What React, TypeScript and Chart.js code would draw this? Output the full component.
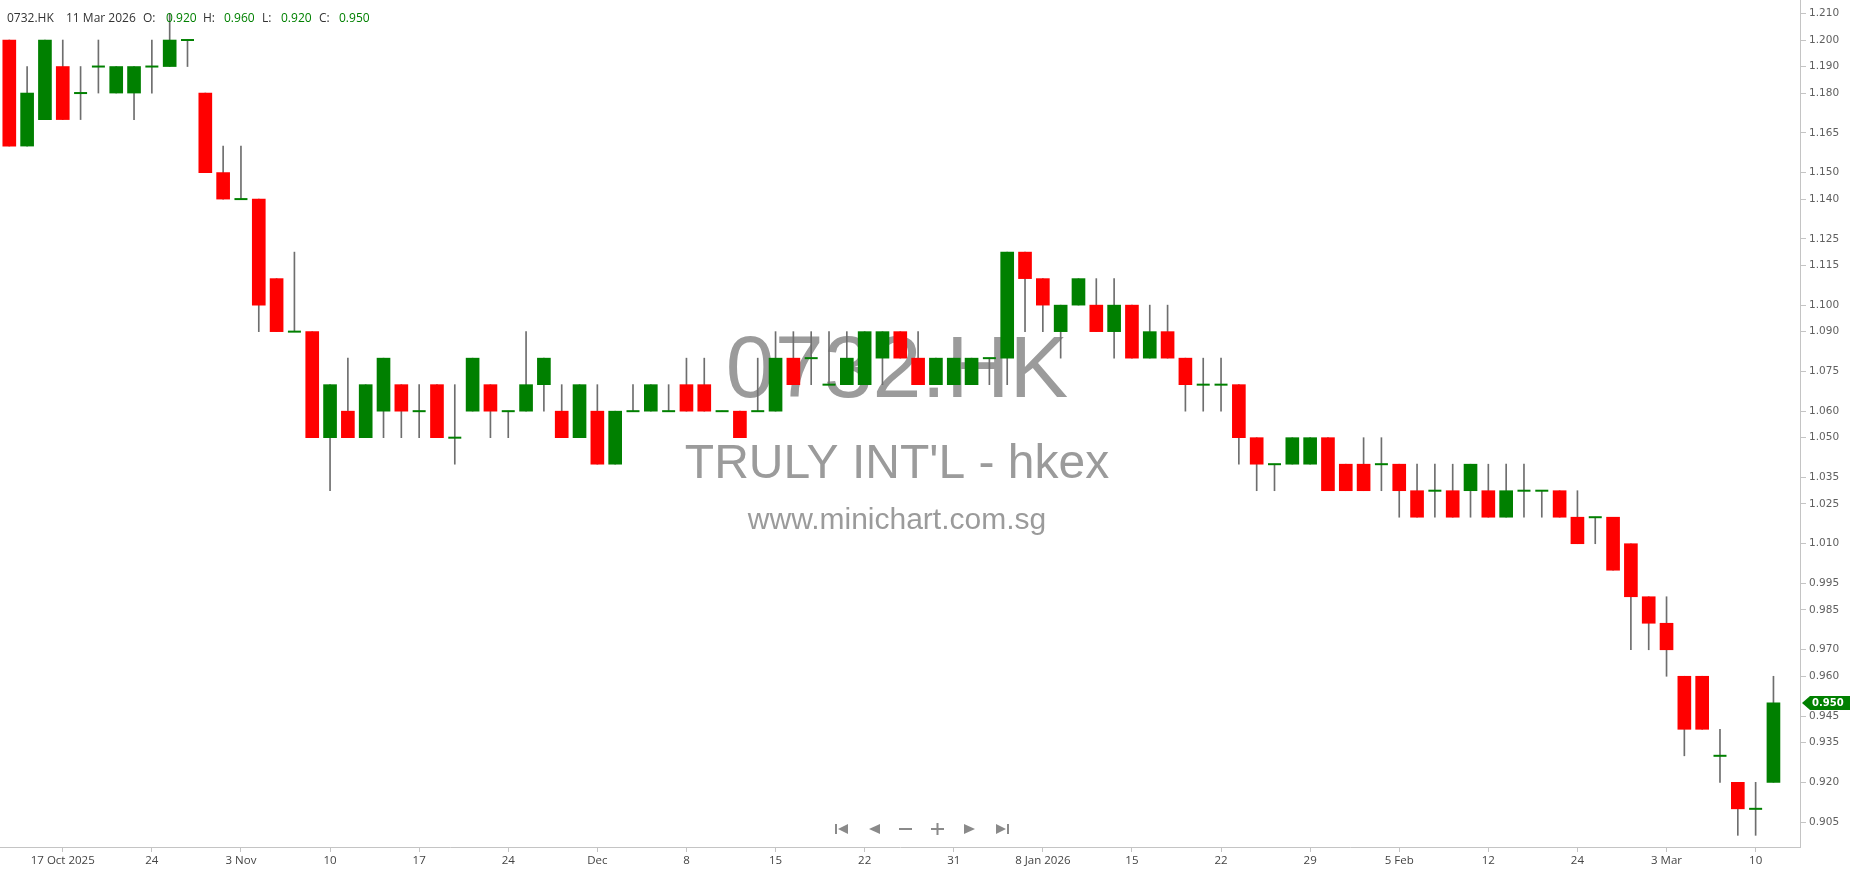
import React, { useEffect, useRef } from "react";
import { Chart, registerables } from "chart.js";
Chart.register(...registerables);

const SYMBOL = "0732.HK";
const NAME = "TRULY INT'L - hkex";
const SITE = "www.minichart.com.sg";

const dates = [
  "2025-10-14", "2025-10-15", "2025-10-16", "2025-10-17",
  "2025-10-20", "2025-10-21", "2025-10-22", "2025-10-23", "2025-10-24",
  "2025-10-27", "2025-10-28", "2025-10-30", "2025-10-31",
  "2025-11-03", "2025-11-04", "2025-11-05", "2025-11-06", "2025-11-07",
  "2025-11-10", "2025-11-11", "2025-11-12", "2025-11-13", "2025-11-14",
  "2025-11-17", "2025-11-18", "2025-11-19", "2025-11-20", "2025-11-21",
  "2025-11-24", "2025-11-25", "2025-11-26", "2025-11-27", "2025-11-28",
  "2025-12-01", "2025-12-02", "2025-12-03", "2025-12-04", "2025-12-05",
  "2025-12-08", "2025-12-09", "2025-12-10", "2025-12-11", "2025-12-12",
  "2025-12-15", "2025-12-16", "2025-12-17", "2025-12-18", "2025-12-19",
  "2025-12-22", "2025-12-23", "2025-12-24",
  "2025-12-29", "2025-12-30", "2025-12-31",
  "2026-01-02",
  "2026-01-05", "2026-01-06", "2026-01-07", "2026-01-08", "2026-01-09",
  "2026-01-12", "2026-01-13", "2026-01-14", "2026-01-15", "2026-01-16",
  "2026-01-19", "2026-01-20", "2026-01-21", "2026-01-22", "2026-01-23",
  "2026-01-26", "2026-01-27", "2026-01-28", "2026-01-29", "2026-01-30",
  "2026-02-02", "2026-02-03", "2026-02-04", "2026-02-05", "2026-02-06",
  "2026-02-09", "2026-02-10", "2026-02-11", "2026-02-12", "2026-02-13",
  "2026-02-16", "2026-02-20",
  "2026-02-23", "2026-02-24", "2026-02-25", "2026-02-26", "2026-02-27",
  "2026-03-02", "2026-03-03", "2026-03-04", "2026-03-05", "2026-03-06",
  "2026-03-09", "2026-03-10", "2026-03-11",
];

const opens = [
  1.20, 1.16, 1.17, 1.19, 1.18, 1.19, 1.18, 1.18, 1.19, 1.19,
  1.20, 1.18, 1.15, 1.14, 1.14, 1.11, 1.09, 1.09, 1.05, 1.06,
  1.05, 1.06, 1.07, 1.06, 1.07, 1.05, 1.06, 1.07, 1.06, 1.06,
  1.07, 1.06, 1.05, 1.06, 1.04, 1.06, 1.06, 1.06, 1.07, 1.07,
  1.06, 1.06, 1.06, 1.06, 1.08, 1.08, 1.07, 1.07, 1.07, 1.08,
  1.09, 1.08, 1.07, 1.07, 1.07, 1.08, 1.08, 1.12, 1.11, 1.09,
  1.10, 1.10, 1.09, 1.10, 1.08, 1.09, 1.08, 1.07, 1.07, 1.07,
  1.05, 1.04, 1.04, 1.04, 1.05, 1.04, 1.04, 1.04, 1.04, 1.03,
  1.03, 1.03, 1.03, 1.03, 1.02, 1.03, 1.03, 1.03, 1.02, 1.02,
  1.02, 1.01, 0.99, 0.98, 0.96, 0.96, 0.93, 0.92, 0.91, 0.92,
];
const highs = [
  1.20, 1.19, 1.20, 1.20, 1.19, 1.20, 1.19, 1.19, 1.20, 1.21,
  1.20, 1.18, 1.16, 1.16, 1.14, 1.11, 1.12, 1.09, 1.07, 1.08,
  1.07, 1.08, 1.07, 1.07, 1.07, 1.07, 1.08, 1.07, 1.06, 1.09,
  1.08, 1.07, 1.07, 1.07, 1.06, 1.07, 1.07, 1.07, 1.08, 1.08,
  1.06, 1.06, 1.08, 1.09, 1.09, 1.09, 1.09, 1.09, 1.09, 1.09,
  1.09, 1.09, 1.08, 1.08, 1.08, 1.08, 1.12, 1.12, 1.11, 1.10,
  1.11, 1.11, 1.11, 1.10, 1.10, 1.10, 1.08, 1.08, 1.08, 1.07,
  1.05, 1.04, 1.05, 1.05, 1.05, 1.04, 1.05, 1.05, 1.04, 1.04,
  1.04, 1.04, 1.04, 1.04, 1.04, 1.04, 1.03, 1.03, 1.03, 1.02,
  1.02, 1.01, 0.99, 0.99, 0.96, 0.96, 0.94, 0.92, 0.92, 0.96,
];
const lows = [
  1.16, 1.16, 1.17, 1.17, 1.17, 1.18, 1.18, 1.17, 1.18, 1.19,
  1.19, 1.15, 1.14, 1.14, 1.09, 1.09, 1.09, 1.05, 1.03, 1.05,
  1.05, 1.05, 1.05, 1.05, 1.05, 1.04, 1.06, 1.05, 1.05, 1.06,
  1.06, 1.05, 1.05, 1.04, 1.04, 1.06, 1.06, 1.06, 1.06, 1.06,
  1.06, 1.05, 1.06, 1.06, 1.07, 1.07, 1.07, 1.07, 1.07, 1.07,
  1.08, 1.07, 1.07, 1.07, 1.07, 1.07, 1.07, 1.09, 1.09, 1.08,
  1.10, 1.09, 1.08, 1.08, 1.08, 1.08, 1.06, 1.06, 1.06, 1.04,
  1.03, 1.03, 1.04, 1.04, 1.03, 1.03, 1.03, 1.03, 1.02, 1.02,
  1.02, 1.02, 1.02, 1.02, 1.02, 1.02, 1.02, 1.02, 1.01, 1.01,
  1.00, 0.97, 0.97, 0.96, 0.93, 0.94, 0.92, 0.90, 0.90, 0.92,
];
const closes = [
  1.16, 1.18, 1.20, 1.17, 1.18, 1.19, 1.19, 1.19, 1.19, 1.20,
  1.20, 1.15, 1.14, 1.14, 1.10, 1.09, 1.09, 1.05, 1.07, 1.05,
  1.07, 1.08, 1.06, 1.06, 1.05, 1.05, 1.08, 1.06, 1.06, 1.07,
  1.08, 1.05, 1.07, 1.04, 1.06, 1.06, 1.07, 1.06, 1.06, 1.06,
  1.06, 1.05, 1.06, 1.08, 1.07, 1.08, 1.07, 1.08, 1.09, 1.09,
  1.08, 1.07, 1.08, 1.08, 1.08, 1.08, 1.12, 1.11, 1.10, 1.10,
  1.11, 1.09, 1.10, 1.08, 1.09, 1.08, 1.07, 1.07, 1.07, 1.05,
  1.04, 1.04, 1.05, 1.05, 1.03, 1.03, 1.03, 1.04, 1.03, 1.02,
  1.03, 1.02, 1.04, 1.02, 1.03, 1.03, 1.03, 1.02, 1.01, 1.02,
  1.00, 0.99, 0.98, 0.97, 0.94, 0.94, 0.93, 0.91, 0.91, 0.95,
];

const xTickDates = [
  "2025-10-17", "2025-10-24", "2025-11-03", "2025-11-10", "2025-11-17",
  "2025-11-24", "2025-12-01", "2025-12-08", "2025-12-15", "2025-12-22",
  "2025-12-31", "2026-01-08", "2026-01-15", "2026-01-22", "2026-01-29",
  "2026-02-05", "2026-02-12", "2026-02-24", "2026-03-03", "2026-03-10",
];
const xTickLabels = [
  "17 Oct 2025", "24", "3 Nov", "10", "17",
  "24", "Dec", "8", "15", "22",
  "31", "8 Jan 2026", "15", "22", "29",
  "5 Feb", "12", "24", "3 Mar", "10",
];
const yTickValues = [
  1.21, 1.2, 1.19, 1.18, 1.165, 1.15, 1.14, 1.125, 1.115, 1.1, 1.09, 1.075,
  1.06, 1.05, 1.035, 1.025, 1.01, 0.995, 0.985, 0.97, 0.96, 0.945, 0.935,
  0.92, 0.905,
];

// visible ranges of the axes
const X_MIN = -0.522;
const X_MAX = 100.49;
const Y_MIN = 0.8956;
const Y_MAX = 1.2151;

const UP = "#008000";
const DOWN = "#ff0000";
const WICK = "#6e6e6e";
const AXIS = "#c4c4c4";

const MONTHS = ["Jan", "Feb", "Mar", "Apr", "May", "Jun", "Jul", "Aug", "Sep", "Oct", "Nov", "Dec"];
function fmtDate(d: string) {
  const [y, m, day] = d.split("-").map(Number);
  return `${day} ${MONTHS[m - 1]} ${y}`;
}

const decorPlugin = {
  id: "decor",
  beforeDatasetsDraw(chart: any) {
    const ctx = chart.ctx;
    ctx.save();
    ctx.fillStyle = "#9b9b9b";
    ctx.textAlign = "center";
    ctx.textBaseline = "alphabetic";
    const cx = 897;
    ctx.font = "88px 'Liberation Sans', Arial, sans-serif";
    ctx.fillText(SYMBOL, cx, 397);
    ctx.font = "48px 'Liberation Sans', Arial, sans-serif";
    ctx.fillText(NAME, cx, 478);
    ctx.font = "30px 'Liberation Sans', Arial, sans-serif";
    ctx.fillText(SITE, cx, 529);
    ctx.restore();
  },
  afterDraw(chart: any) {
    const ctx = chart.ctx;
    const last = closes.length - 1;
    ctx.save();
    // header
    ctx.textBaseline = "alphabetic";
    ctx.textAlign = "left";
    ctx.font = "12px 'Open Sans', sans-serif";
    const dark = "#333333";
    const parts: [string, number, string][] = [
      [SYMBOL, 7, dark],
      [fmtDate(dates[last]), 66, dark],
      ["O:", 143, dark],
      [opens[last].toFixed(3), 166, UP],
      ["H:", 203, dark],
      [highs[last].toFixed(3), 224, UP],
      ["L:", 262, dark],
      [lows[last].toFixed(3), 281, UP],
      ["C:", 319, dark],
      [closes[last].toFixed(3), 339, UP],
    ];
    for (const [t, x, c] of parts) {
      ctx.fillStyle = c;
      ctx.fillText(t, x, 22);
    }
    // last price badge
    const yS = chart.scales.y;
    const py = Math.round(yS.getPixelForValue(closes[last]));
    const bx = chart.chartArea.right + 2;
    ctx.fillStyle = closes[last] >= opens[last] ? UP : DOWN;
    ctx.beginPath();
    ctx.moveTo(bx, py);
    ctx.lineTo(bx + 8, py - 7);
    ctx.lineTo(1850, py - 7);
    ctx.lineTo(1850, py + 7);
    ctx.lineTo(bx + 8, py + 7);
    ctx.closePath();
    ctx.fill();
    ctx.fillStyle = "#ffffff";
    ctx.font = "bold 10px 'DejaVu Sans', sans-serif";
    ctx.textBaseline = "middle";
    ctx.fillText(closes[last].toFixed(3), bx + 10, py + 0.5);
    // navigation icons
    ctx.fillStyle = "#8a8a8a";
    const cy = 829;
    const tri = (x1: number, x2: number) => {
      ctx.beginPath();
      ctx.moveTo(x1, cy - 5);
      ctx.lineTo(x1, cy + 5);
      ctx.lineTo(x2, cy);
      ctx.closePath();
      ctx.fill();
    };
    ctx.fillRect(835, cy - 5, 2, 10);
    tri(848, 838);
    tri(880, 869);
    ctx.fillRect(899, cy - 1, 13, 2);
    ctx.fillRect(931, cy - 1, 13, 2);
    ctx.fillRect(936.5, cy - 6, 2, 12);
    tri(964, 975);
    tri(996, 1006);
    ctx.fillRect(1007, cy - 5, 2, 10);
    ctx.restore();
  },
};

export default function App() {
  const ref = useRef<HTMLCanvasElement | null>(null);
  useEffect(() => {
    if (!ref.current) return;
    const idx = dates.map((_, i) => i);
    const bodyIdx = idx.filter((i) => opens[i] !== closes[i]);
    const dojiIdx = idx.filter((i) => opens[i] === closes[i]);
    const chart = new Chart(ref.current, {
      type: "bar",
      data: {
        datasets: [
          {
            label: "wick",
            data: idx.map((i) => ({ x: i, y: [lows[i], highs[i]] })) as any,
            backgroundColor: WICK,
            barThickness: 1,
            grouped: false,
            order: 3,
          } as any,
          {
            label: "body",
            data: bodyIdx.map((i) => ({ x: i, y: [opens[i], closes[i]] })) as any,
            backgroundColor: bodyIdx.map((i) => (closes[i] > opens[i] ? UP : DOWN)),
            barThickness: 13,
            grouped: false,
            borderWidth: 0,
            order: 2,
          } as any,
          {
            type: "line",
            label: "doji",
            data: dojiIdx.map((i) => ({ x: i, y: closes[i] })) as any,
            showLine: false,
            pointStyle: "line",
            pointRadius: 6.5,
            pointBorderWidth: 2,
            pointBorderColor: UP,
            pointBackgroundColor: UP,
            order: 1,
          } as any,
        ],
      },
      options: {
        animation: false,
        responsive: false,
        devicePixelRatio: 1,
        layout: { padding: 0, autoPadding: false },
        plugins: { legend: { display: false }, tooltip: { enabled: false } },
        scales: {
          x: {
            type: "linear",
            min: X_MIN,
            max: X_MAX,
            offset: false,
            afterBuildTicks: (s: any) => {
              s.ticks = xTickDates.map((d) => ({ value: dates.indexOf(d) }));
            },
            afterFit: (s: any) => {
              s.height = 27;
              s.paddingLeft = 0;
              s.paddingRight = 0;
            },
            ticks: {
              autoSkip: false,
              maxRotation: 0,
              minRotation: 0,
              padding: 2,
              color: "#444444",
              font: { family: "'Open Sans', sans-serif", size: 11.5 },
              callback: (_v: any, i: number) => xTickLabels[i],
            },
            grid: { offset: false, drawOnChartArea: false, drawTicks: true, tickLength: 5, color: AXIS },
            border: { display: true, color: AXIS },
          },
          y: {
            type: "linear",
            position: "right",
            min: Y_MIN,
            max: Y_MAX,
            afterBuildTicks: (s: any) => {
              s.ticks = yTickValues.map((v) => ({ value: v }));
            },
            afterFit: (s: any) => {
              s.width = 50;
              s.paddingTop = 0;
              s.paddingBottom = 0;
            },
            ticks: {
              autoSkip: false,
              padding: 3,
              color: "#606060",
              font: { family: "'DejaVu Sans', sans-serif", size: 10.5 },
              callback: (v: any) => Number(v).toFixed(3),
            },
            grid: { drawOnChartArea: false, drawTicks: true, tickLength: 6, color: AXIS },
            border: { display: true, color: AXIS },
          },
        },
      },
      plugins: [decorPlugin],
    } as any);
    return () => chart.destroy();
  }, []);
  return (
    <div style={{ position: "fixed", left: 0, top: 0, width: 1850, height: 874, background: "#fff" }}>
      <canvas ref={ref} width={1850} height={874} style={{ width: 1850, height: 874, display: "block" }} />
    </div>
  );
}
